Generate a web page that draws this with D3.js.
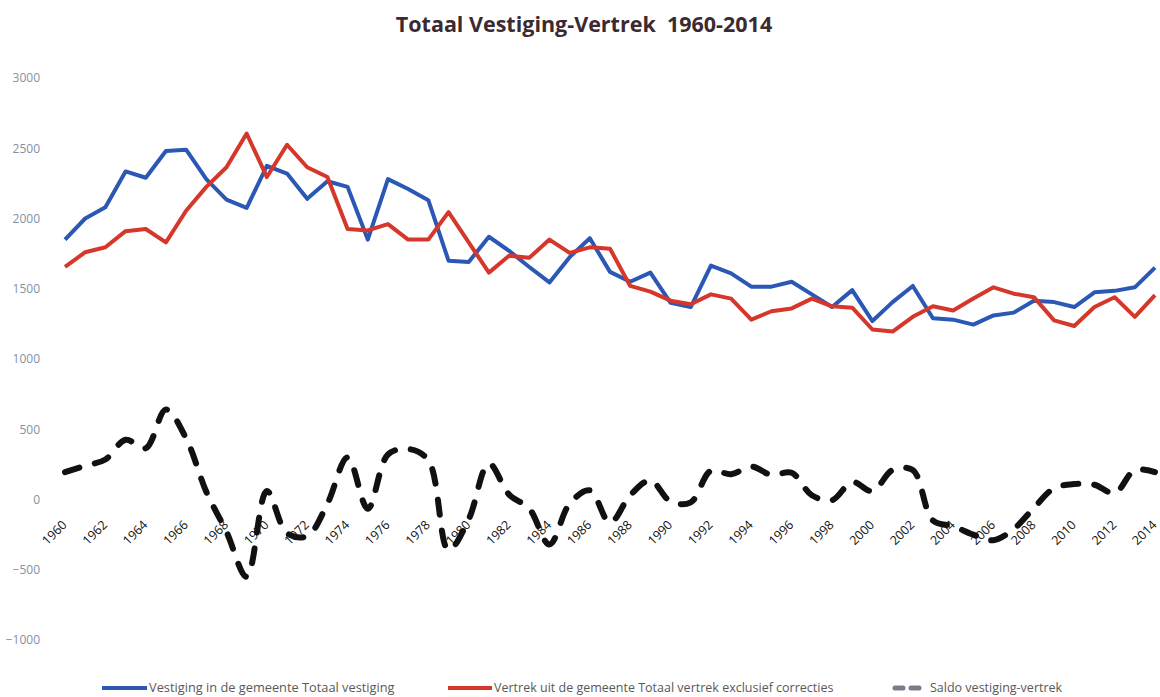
<!DOCTYPE html>
<html>
<head>
<meta charset="utf-8">
<script src="https://cdn.jsdelivr.net/npm/d3@7"></script>
<style>
  body { margin: 0; background: #fff; }
  svg { display: block; font-family: 'Open Sans', 'Liberation Sans', sans-serif; }
</style>
</head>
<body>
<svg id="chart" width="1160" height="697"></svg>
<script>
'use strict';
// jaren 1960-2014
var years = d3.range(1960, 2015);
var vestiging = [1850,2000,2080,2335,2290,2480,2490,2280,2135,2075,
                 2375,2320,2140,2265,2225,1850,2280,2210,2130,1700,
                 1690,1870,1770,1655,1545,1725,1860,1620,1550,1615,
                 1400,1370,1665,1610,1515,1515,1550,1460,1370,1490,
                 1270,1405,1520,1290,1280,1245,1310,1330,1415,1405,
                 1370,1475,1485,1510,1650];
var vertrek = [1655,1760,1795,1910,1925,1830,2055,2225,2365,2605,
               2295,2525,2365,2295,1925,1915,1960,1850,1850,2045,
               1830,1615,1735,1720,1850,1755,1795,1785,1520,1480,
               1415,1390,1460,1430,1280,1340,1360,1430,1375,1365,
               1210,1195,1300,1375,1345,1430,1510,1465,1440,1275,
               1235,1370,1440,1300,1455];
var saldo = [195,240,285,425,365,640,435,55,-230,-550,
             60,-240,-260,-30,300,-65,320,360,280,-360,
             -140,255,35,-65,-320,-30,65,-165,30,135,
             -15,-20,205,180,235,175,190,30,-5,125,
             60,210,210,-150,-190,-250,-290,-210,-60,80,
             110,105,45,210,195];
var yTicks = [-1000,-500,0,500,1000,1500,2000,2500,3000];
var xTicks = d3.range(1960, 2015, 2);
var legendLabels = ['Vestiging in de gemeente Totaal vestiging',
                    'Vertrek uit de gemeente Totaal vertrek exclusief correcties',
                    'Saldo vestiging-vertrek'];

var svg = d3.select('#chart');
var x = d3.scaleLinear().domain([1960, 2014]).range([65, 1155]);
var y = d3.scaleLinear().domain([-1000, 3000]).range([640, 78]);

// titel
svg.append('text')
   .attr('x', 584).attr('y', 32)
   .attr('text-anchor', 'middle')
   .style('font-size', '21.5px').style('font-weight', 'bold')
   .style('fill', '#3b2a30')
   .style('white-space', 'pre')
   .text('Totaal Vestiging-Vertrek  1960-2014');

// y-as
var yAxis = svg.append('g')
   .attr('transform', 'translate(43,0)')
   .call(d3.axisLeft(y).tickValues(yTicks).tickSize(0).tickFormat(d3.format('d')));
yAxis.select('.domain').remove();
yAxis.selectAll('text')
   .style('font-size', '12px').style('fill', '#8391a6')
   .style('font-family', "'Open Sans', sans-serif");

// x-as op nul
var xAxis = svg.append('g')
   .attr('transform', 'translate(0,' + y(0) + ')')
   .call(d3.axisBottom(x).tickValues(xTicks).tickSize(0).tickFormat(d3.format('d')));
xAxis.select('.domain').remove();
xAxis.selectAll('text')
   .attr('text-anchor', 'end')
   .attr('dy', '0.35em').attr('y', 0)
   .attr('transform', 'translate(-1,23) rotate(-45)')
   .style('font-size', '12.5px').style('fill', '#111')
   .style('font-family', "'Open Sans', sans-serif");

var line = function(vals){
  return d3.line().x((d,i)=>x(years[i])).y(d=>y(d))(vals);
};

svg.append('path')
   .attr('d', line(vestiging))
   .attr('fill', 'none').attr('stroke', '#2b58b5')
   .attr('stroke-width', 4).attr('stroke-linejoin', 'round');

svg.append('path')
   .attr('d', line(vertrek))
   .attr('fill', 'none').attr('stroke', '#d5382a')
   .attr('stroke-width', 4).attr('stroke-linejoin', 'round');

svg.append('path')
   .attr('d', d3.line().curve(d3.curveCatmullRom.alpha(0.5))
               .x((d,i)=>x(years[i])).y(d=>y(d))(saldo))
   .attr('fill', 'none').attr('stroke', '#111')
   .attr('stroke-width', 6).attr('stroke-linecap', 'round')
   .attr('stroke-dasharray', '15,16');

// legenda
var lg = svg.append('g').attr('transform', 'translate(0,688)');
lg.append('line').attr('x1', 102).attr('x2', 147)
  .attr('stroke', '#2b58b5').attr('stroke-width', 4);
lg.append('line').attr('x1', 448).attr('x2', 492)
  .attr('stroke', '#d5382a').attr('stroke-width', 4);
lg.append('line').attr('x1', 895).attr('x2', 925)
  .attr('stroke', '#7b7c8c').attr('stroke-width', 5)
  .attr('stroke-linecap', 'round').attr('stroke-dasharray', '8,8');
[149, 494, 930].forEach(function(px, i){
  lg.append('text').attr('x', px).attr('y', 0).attr('dy', '0.35em')
    .style('font-size', i === 0 ? '12.8px' : '12.5px').style('fill', '#595959')
    .style('font-family', "'Open Sans', sans-serif")
    .text(legendLabels[i]);
});
</script>
</body>
</html>
